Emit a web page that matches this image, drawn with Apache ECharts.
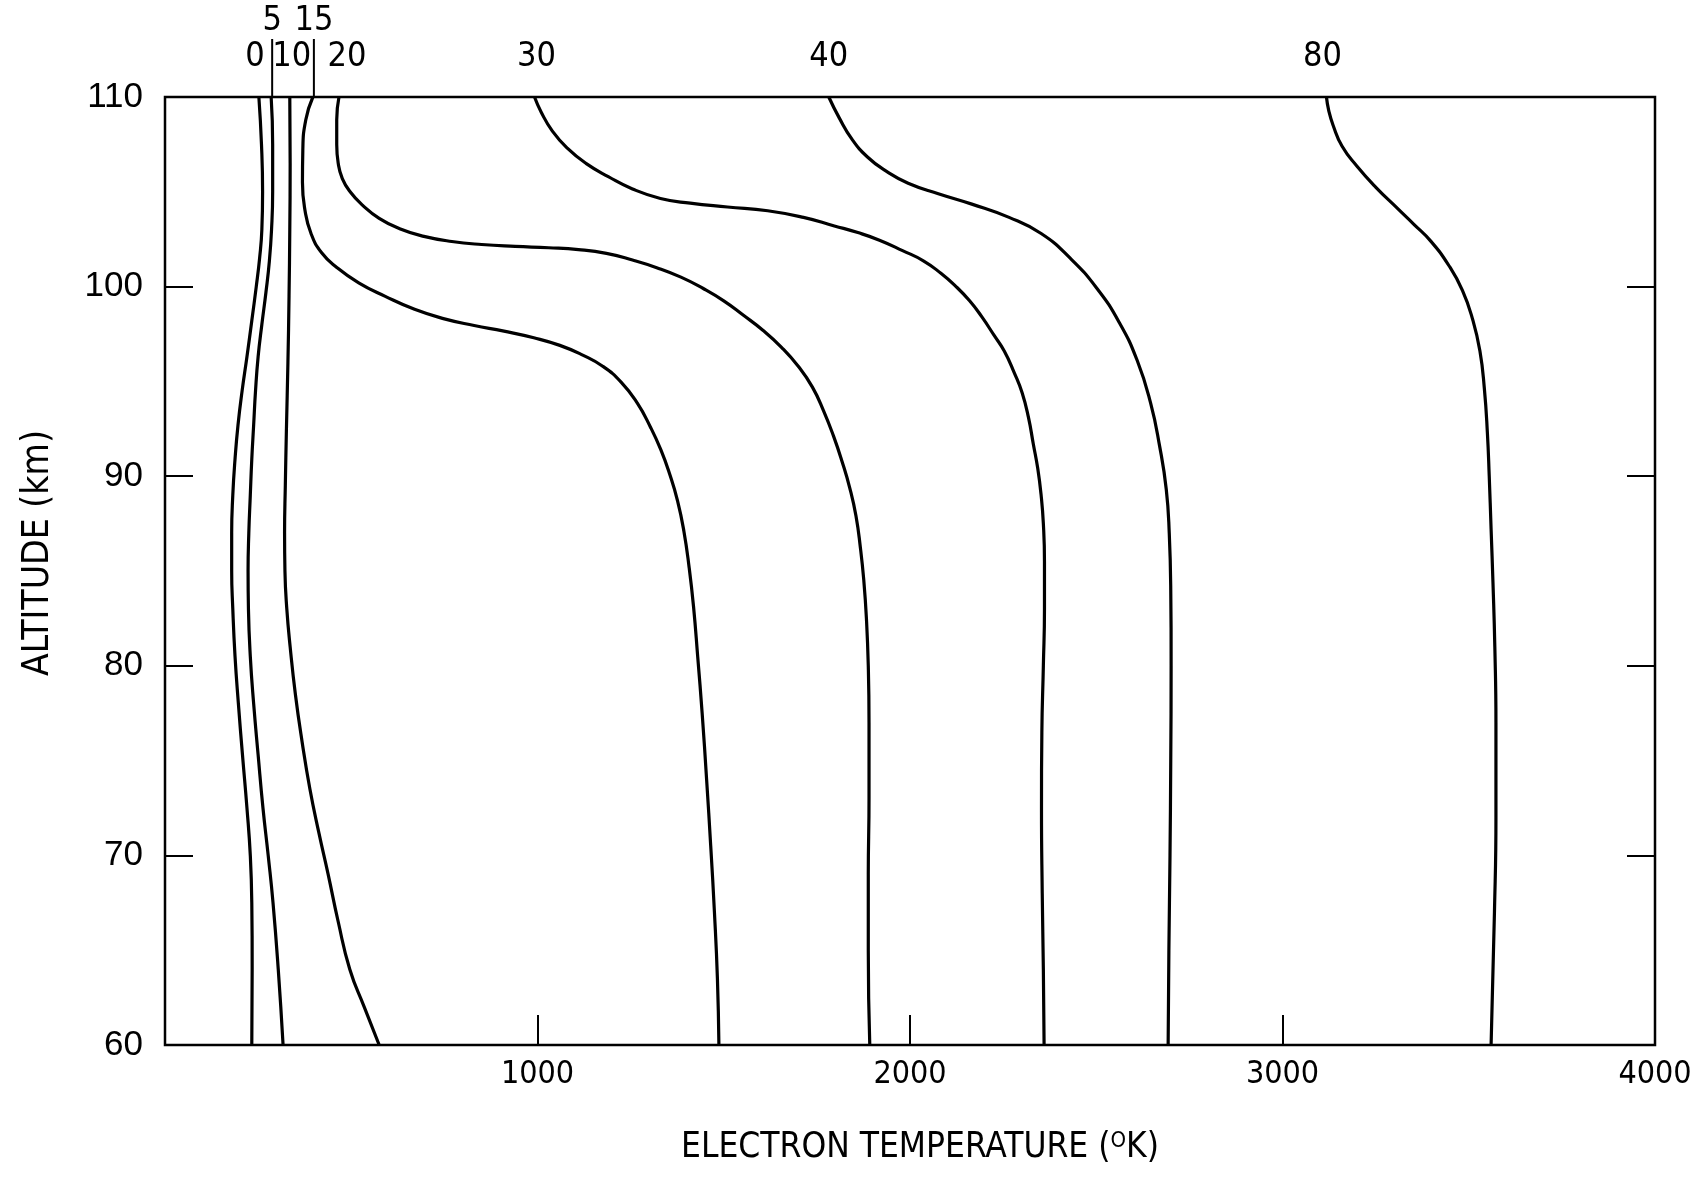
<!DOCTYPE html>
<html>
<head>
<meta charset="utf-8">
<script src="https://cdn.jsdelivr.net/npm/echarts@6/dist/echarts.min.js"></script>
<style>
html,body{margin:0;padding:0;background:#fff;}
#chart{width:1701px;height:1177px;}
</style>
</head>
<body>
<div id="chart"></div>
<script>
// ---- data: [electron temperature (K), altitude (km)], top to bottom ----
const curveNames = ['0', '5', '10', '15', '20', '30', '40', '80'];

const curve0 = [[252,110],[259,107.5],[262,105],[260,103],[254,101.5],[245,100],[233,98.2],[220,96.3],[207,94.5],[196,92.7],[188,90.9],[182,89],[179,87],[179,85],[182,83],[188,80.5],[197,78],[208,75.3],[220,72.5],[229,70],[233,67.5],[234,64],[233,60]];
const curve5 = [[285,110],[289,107.5],[289,105],[286,103],[280,101.3],[271,99.7],[260,98],[250,96.3],[243,94.5],[238,92.7],[233,90.9],[229,89],[225,87],[223,85],[224,83],[229,80.5],[238,78],[250,75.3],[263,72.5],[277,70],[290,67.5],[304,64],[317,60]];
const curve10 = [[335,110],[336,106.5],[335,103],[333,99.5],[330,96],[326,92.5],[323,89.5],[321,87],[322,85],[327,83],[336,81],[350,78.5],[368,76],[389,73.5],[413,71.2],[438,69],[465,66.5],[496,64],[535,62],[575,60]];
const curve15 = [[397,110],[378,108.8],[370,107.2],[369,105.5],[376,104],[392,102.8],[420,101.8],[462,101],[520,100.2],[590,99.5],[670,98.8],[750,98.3],[830,97.95],[910,97.65],[990,97.3],[1060,96.9],[1120,96.4],[1175,95.8],[1225,94.95],[1268,93.85],[1303,92.6],[1331,91.4],[1355,90.1],[1376,88.7],[1393,87.1],[1407,85.2],[1419,83.1],[1430,80.5],[1442,77.5],[1454,74],[1465,70.5],[1475,67],[1483,63.5],[1487,60]];
const curve20 = [[467,110],[461,108.8],[461,107.5],[465,106.5],[476,105.7],[497,105],[530,104.3],[575,103.6],[630,103.05],[695,102.65],[770,102.38],[850,102.22],[940,102.12],[1030,102.05],[1110,101.95],[1185,101.75],[1255,101.4],[1320,101.0],[1385,100.5],[1445,99.9],[1500,99.25],[1552,98.5],[1605,97.7],[1655,96.8],[1700,95.8],[1738,94.7],[1768,93.45],[1795,92.1],[1818,90.75],[1838,89.4],[1855,87.9],[1867,86.2],[1876,84.5],[1883,82.5],[1888,80],[1890,77],[1890,73],[1888,69],[1888,65],[1892,60]];
const curve30 = [[992,110],[1010,109.2],[1040,108.2],[1080,107.3],[1130,106.5],[1190,105.8],[1255,105.15],[1330,104.65],[1410,104.4],[1510,104.2],[1618,104.0],[1714,103.65],[1797,103.2],[1860,102.85],[1918,102.45],[1980,101.9],[2037,101.35],[2083,100.7],[2121,100.05],[2160,99.25],[2193,98.4],[2225,97.45],[2253,96.6],[2280,95.45],[2301,94.4],[2318,93.1],[2331,91.7],[2343,90.4],[2352,89],[2358,87.5],[2361,85.5],[2361,83],[2358,80],[2354,76.5],[2353,72.5],[2355,68],[2358,64],[2360,60]];
const curve40 = [[1782,110],[1810,108.9],[1845,107.75],[1885,106.85],[1935,106.1],[1995,105.45],[2076,104.9],[2166,104.35],[2266,103.65],[2352,102.8],[2430,101.5],[2502,99.9],[2562,98.1],[2610,96.1],[2646,93.85],[2670,91.6],[2688,89.3],[2696,87],[2700,84],[2701,80],[2700,75],[2698,70],[2695,65],[2693,60]];
const curve80 = [[3118,110],[3124,109.3],[3136,108.5],[3160,107.4],[3200,106.35],[3250,105.25],[3310,104.1],[3352,103.3],[3398,102.4],[3447,101.1],[3483,99.8],[3510,98.3],[3530,96.6],[3542,94.6],[3550,92.3],[3555,90],[3560,87.2],[3565,84.4],[3570,81],[3573,77],[3573,72],[3569,67],[3560,60]];

const curves = [curve0, curve5, curve10, curve15, curve20, curve30, curve40, curve80];

const xTickLabels = ['', '1000', '2000', '3000', '4000'];
const yTickLabels = ['60', '70', '80', '90', '100', '110'];
const xTitle = 'ELECTRON TEMPERATURE (';
const xTitleSup = 'O';
const xTitleEnd = 'K)';
const yTitle = 'ALTITUDE (km)';

// ---- layout / styles (not data) ----
const NARROW = "'Liberation Sans Narrow', 'DejaVu Sans Condensed', sans-serif";
const SANS = "'Liberation Sans', 'DejaVu Sans', sans-serif";
// curve label placement: [dx from curve top in px, row (0 = low, 1 = high with leader line)]
const labelPlace = [[-4,0],[1,1],[2,0],[1,1],[8,0],[2,0],[0,0],[-4,0]];

const chart = echarts.init(document.getElementById('chart'), null, {renderer: 'canvas'});

const option = {
  animation: false,
  backgroundColor: '#fff',
  grid: {left: 165, right: 46, top: 97, bottom: 132, show: true, borderColor: '#000', borderWidth: 2.5, backgroundColor: 'transparent'},
  xAxis: [{
    type: 'value', min: 0, max: 4000, interval: 1000,
    axisLine: {show: false},
    axisTick: {show: true, inside: true, length: 30, lineStyle: {color: '#000', width: 2}},
    splitLine: {show: false},
    axisLabel: {
      margin: 14, color: '#000', fontFamily: NARROW, fontSize: 32,
      formatter: function (v) { return xTickLabels[Math.round(v / 1000)]; }
    }
  }],
  yAxis: [{
    type: 'value', min: 60, max: 110, interval: 10,
    axisLine: {show: false},
    axisTick: {show: true, inside: true, length: 28, lineStyle: {color: '#000', width: 2}},
    splitLine: {show: false},
    axisLabel: {
      margin: 22, color: '#000', fontFamily: SANS, fontSize: 35,
      formatter: function (v) { return yTickLabels[Math.round((v - 60) / 10)]; }
    }
  }, {
    type: 'value', min: 60, max: 110, interval: 10, position: 'right',
    axisLine: {show: false},
    axisTick: {show: true, inside: true, length: 28, lineStyle: {color: '#000', width: 2}},
    splitLine: {show: false},
    axisLabel: {show: false}
  }],
  series: curves.map(function (c, i) {
    return {
      name: curveNames[i], type: 'line', data: c, xAxisIndex: 0, yAxisIndex: 0,
      showSymbol: false, smooth: 0.5, clip: false,
      lineStyle: {color: '#000', width: 3.2}
    };
  })
};
chart.setOption(option);

// curve labels above the top frame and axis titles
const graphics = [];
curves.forEach(function (c, i) {
  const p = chart.convertToPixel({xAxisIndex: 0, yAxisIndex: 0}, c[0]);
  const dx = labelPlace[i][0], high = labelPlace[i][1] === 1;
  const ly = high ? p[1] - 76 : p[1] - 40;
  graphics.push({
    type: 'text', x: p[0] + dx, y: ly,
    style: {text: curveNames[i], font: '34px ' + NARROW, fill: '#000', align: 'center', verticalAlign: 'middle'}
  });
  if (high) {
    graphics.push({
      type: 'line', shape: {x1: p[0] + 1, y1: p[1] - 58, x2: p[0] + 1, y2: p[1]},
      style: {stroke: '#000', lineWidth: 2}
    });
  }
});
graphics.push({
  type: 'text', x: 920, y: 1148,
  style: {
    text: '{a|' + xTitle + '}{s|' + xTitleSup + '}{a|' + xTitleEnd + '}',
    align: 'center', verticalAlign: 'middle',
    rich: {
      a: {font: '35px ' + NARROW, fill: '#000', verticalAlign: 'bottom'},
      s: {font: '22px ' + NARROW, fill: '#000', verticalAlign: 'top'}
    }
  }
});
graphics.push({
  type: 'text', x: 38, y: 553, rotation: Math.PI / 2,
  style: {text: yTitle, font: '37px ' + NARROW, fill: '#000', align: 'center', verticalAlign: 'middle'}
});
chart.setOption({graphic: graphics});
</script>
</body>
</html>
